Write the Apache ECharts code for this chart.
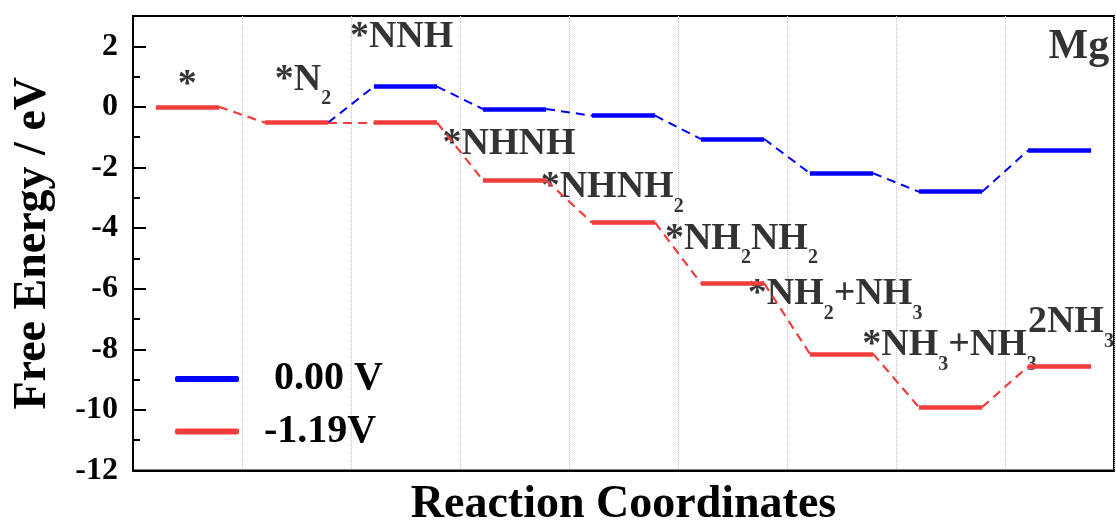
<!DOCTYPE html>
<html>
<head>
<meta charset="utf-8">
<script src="https://cdn.jsdelivr.net/npm/echarts@6/dist/echarts.min.js"></script>
<style>
  html, body { margin: 0; padding: 0; background: #ffffff; }
  #chart { width: 1116px; height: 527px; }
</style>
</head>
<body>
<div id="chart"></div>
<script>
// Intermediates along the N2 reduction pathway (underscore marks a subscript digit)
const steps = ['*', '*N_2', '*NNH', '*NHNH', '*NHNH_2', '*NH_2NH_2', '*NH_2+NH_3', '*NH_3+NH_3', '2NH_3'];

// Free energy (eV) of each intermediate at the two electrode potentials
const energy0V = [0.00, -0.52, 0.67, -0.07, -0.29, -1.06, -2.19, -2.80, -1.44];
const energyLimiting = [0.00, -0.52, -0.52, -2.42, -3.82, -5.82, -8.15, -9.91, -8.57];

const seriesNames = [' 0.00 V', '-1.19V'];
const panelTag = 'Mg';

// Y axis range and spacing of labelled / small ticks
const yMin = -12, yMax = 3, yMajorStep = 2, yMinorStep = 1;

// Layout: where each step label sits (x in step units, y in eV), left edge / mid-height
const labelAnchors = [
  [0.41, 0.72], [1.30, 0.89], [1.99, 2.29], [2.84, -1.22], [3.74, -2.66],
  [4.88, -4.37], [5.64, -6.19], [6.69, -7.87], [8.21, -7.11]
];
const tagAnchor = [8.40, 1.98];

const BLUE = '#0000ff';
const RED = '#f23d3d';
const FONT = "'Liberation Serif', 'Times New Roman', serif";
const LEVEL_START = 0.21, LEVEL_END = 0.79;

function levelSegments(values, skip) {
  const out = [];
  values.forEach((v, i) => {
    if (skip && skip(i)) return;
    out.push({ coords: [[i + LEVEL_START, v], [i + LEVEL_END, v]] });
  });
  return out;
}
function connectorSegments(values, skip) {
  const out = [];
  for (let i = 0; i < values.length - 1; i++) {
    if (skip && skip(i)) continue;
    out.push({ coords: [[i + LEVEL_END, values[i]], [i + 1 + LEVEL_START, values[i + 1]]] });
  }
  return out;
}
// Blue path only where it departs from the red one
const sameLevel = i => energy0V[i] === energyLimiting[i];
const sameLink = i => sameLevel(i) && sameLevel(i + 1);

function toRich(name) {
  return name.split(/(_\d)/).filter(s => s.length).map(s =>
    s[0] === '_' ? '{s|' + s.slice(1) + '}' : '{m|' + s + '}').join('');
}

const labelData = steps.map((name, i) => ({ name: name, value: labelAnchors[i] }));
labelData.push({
  name: panelTag, value: tagAnchor,
  label: { formatter: '{g|' + panelTag + '}' }
});

function linesSeries(name, data, color, width, dashed, z) {
  return {
    type: 'lines', name: name, coordinateSystem: 'cartesian2d',
    xAxisIndex: 0, yAxisIndex: 0, polyline: false, silent: true, z: z,
    lineStyle: { color: color, width: width, type: dashed ? [9, 6] : 'solid', cap: 'butt', opacity: 1 },
    data: data
  };
}

const chart = echarts.init(document.getElementById('chart'), null, { renderer: 'canvas' });
chart.setOption({
  animation: false,
  backgroundColor: '#ffffff',
  grid: {
    left: 133, top: 16, width: 981, bottom: 56.5,
    show: true, borderColor: '#000', borderWidth: 2, backgroundColor: 'transparent',
    outerBoundsMode: 'none'
  },
  legend: {
    orient: 'vertical', left: 170, top: 352, itemGap: 8.6,
    itemWidth: 62, itemHeight: 4,
    data: [
      { name: seriesNames[0], icon: 'roundRect', itemStyle: { color: BLUE } },
      { name: seriesNames[1], icon: 'roundRect', itemStyle: { color: RED } }
    ],
    textStyle: {
      fontFamily: FONT, fontSize: 40, fontWeight: 'bold', color: '#000',
      lineHeight: 44, padding: [0, 0, 0, 21]
    },
    selectedMode: false
  },
  xAxis: {
    type: 'value', min: 0, max: steps.length, interval: 1,
    name: 'Reaction Coordinates', nameLocation: 'middle', nameGap: 12,
    nameTextStyle: { fontFamily: FONT, fontSize: 46, fontWeight: 'bold', color: '#000' },
    axisLine: { show: true, onZero: false, lineStyle: { color: '#000', width: 2 } },
    axisTick: { show: false },
    axisLabel: { show: false },
    splitLine: { show: true, lineStyle: { color: '#c4c4c4', width: 1, type: 'dotted' } }
  },
  yAxis: [
    {
      type: 'value', min: yMin, max: yMax, interval: yMajorStep, position: 'left',
      name: 'Free Energy / eV', nameLocation: 'middle', nameGap: 77, nameRotate: 90,
      nameTextStyle: { fontFamily: FONT, fontSize: 46, fontWeight: 'bold', color: '#000' },
      axisLine: { show: true, onZero: false, lineStyle: { color: '#000', width: 2 } },
      axisTick: { show: true, inside: true, length: 13, lineStyle: { color: '#000', width: 2 } },
      axisLabel: {
        margin: 15, fontFamily: FONT, fontSize: 32, fontWeight: 'bold', color: '#000',
        formatter: v => (v % yMajorStep === 0 ? String(v) : '')
      },
      splitLine: { show: false }
    },
    {
      type: 'value', min: yMin, max: yMax, interval: yMinorStep, position: 'left',
      axisLine: { show: false, onZero: false },
      axisTick: { show: true, inside: true, length: 7, lineStyle: { color: '#000', width: 2 } },
      axisLabel: { show: false },
      splitLine: { show: false }
    }
  ],
  series: [
    {
      type: 'scatter', name: 'steps', xAxisIndex: 0, yAxisIndex: 0, z: 1,
      symbolSize: 0, silent: true, data: labelData,
      label: {
        show: true, position: 'right', distance: 0,
        formatter: p => toRich(p.name),
        rich: {
          m: { fontFamily: FONT, fontSize: 38, fontWeight: 'bold', color: '#000', lineHeight: 38 },
          s: { fontFamily: FONT, fontSize: 20, fontWeight: 'bold', color: '#000', lineHeight: 20, padding: [38, 0, 0, 0] },
          g: { fontFamily: FONT, fontSize: 42, fontWeight: 'bold', color: '#000', lineHeight: 42 }
        }
      }
    },
    linesSeries(seriesNames[0], connectorSegments(energy0V, sameLink), BLUE, 2, true, 3),
    linesSeries(seriesNames[0], levelSegments(energy0V, sameLevel), BLUE, 4.5, false, 3),
    linesSeries(seriesNames[1], connectorSegments(energyLimiting), RED, 2.2, true, 4),
    linesSeries(seriesNames[1], levelSegments(energyLimiting), RED, 4.5, false, 4)
  ]
});
</script>
</body>
</html>
